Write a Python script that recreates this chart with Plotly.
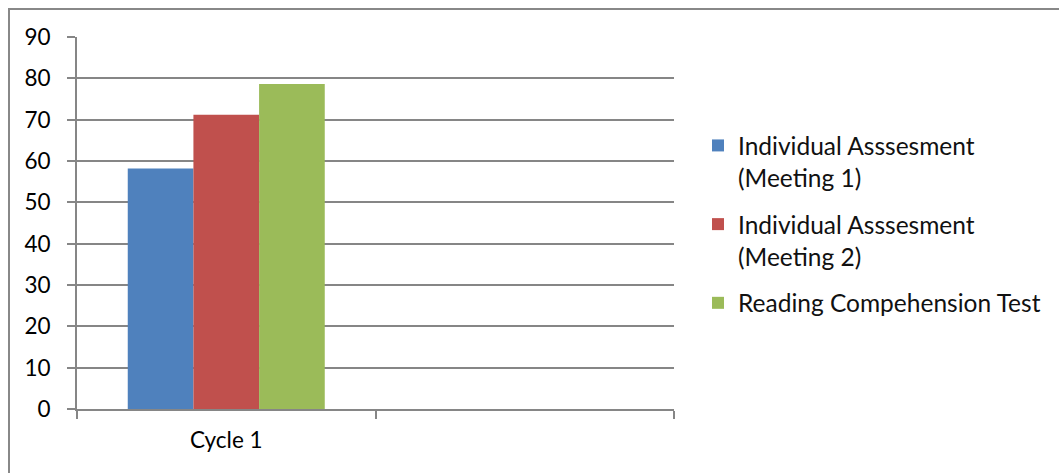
import plotly.graph_objects as go

categories = ["Cycle 1", " "]
series_names = ["Individual Asssesment<br>(Meeting 1)",
                "Individual Asssesment<br>(Meeting 2)",
                "Reading Compehension Test"]
series_values = [[58.2, None], [71.2, None], [78.6, None]]
colors = ["#4F81BD", "#C0504D", "#9BBB59"]
y_ticks = [0, 10, 20, 30, 40, 50, 60, 70, 80, 90]

FONT = "Lato"
W, H = 1059, 473
L, R, T, B = 77, 385, 37, 64

fig = go.Figure()
for i, (name, vals, c) in enumerate(zip(series_names, series_values, colors)):
    fig.add_trace(go.Bar(x=categories, y=vals, name=name, legendgroup=f"g{i}",
                         marker=dict(color=c, line=dict(width=0))))

pw = W - L - R
ph = H - T - B
fig.update_layout(
    width=W, height=H,
    margin=dict(l=L, r=R, t=T, b=B, pad=0),
    paper_bgcolor="white", plot_bgcolor="white",
    barmode="group", bargap=0.34, bargroupgap=0,
    font=dict(family=FONT, size=22, color="#000000"),
    legend=dict(x=(698 - L) / pw, y=(409 - 123) / ph, xanchor="left", yanchor="top",
                valign="top", tracegroupgap=12, font=dict(size=24.5, color="#111111"),
                itemwidth=30),
    showlegend=True,
    xaxis=dict(type="category", tickson="boundaries", ticks="outside", ticklen=8,
               tickcolor="#868686", tickwidth=2, showline=True, linecolor="#868686",
               linewidth=2, showgrid=False, tickfont=dict(size=22.5),
               ticklabelstandoff=10),
    yaxis=dict(range=[0, 90], tickvals=y_ticks, ticks="outside", ticklen=8,
               tickcolor="#868686", tickwidth=2, showline=True, linecolor="#868686",
               linewidth=2, showgrid=True, gridcolor="#868686", gridwidth=2,
               zeroline=False, tickfont=dict(size=22.5), ticklabelstandoff=12),
    shapes=[dict(type="rect", xref="paper", yref="paper",
                 x0=(9 - L) / pw, x1=(1100 - L) / pw,
                 y0=(409 - 520) / ph, y1=(409 - 9) / ph,
                 line=dict(color="#888888", width=2), layer="below")],
)
fig.write_html("out.html")
